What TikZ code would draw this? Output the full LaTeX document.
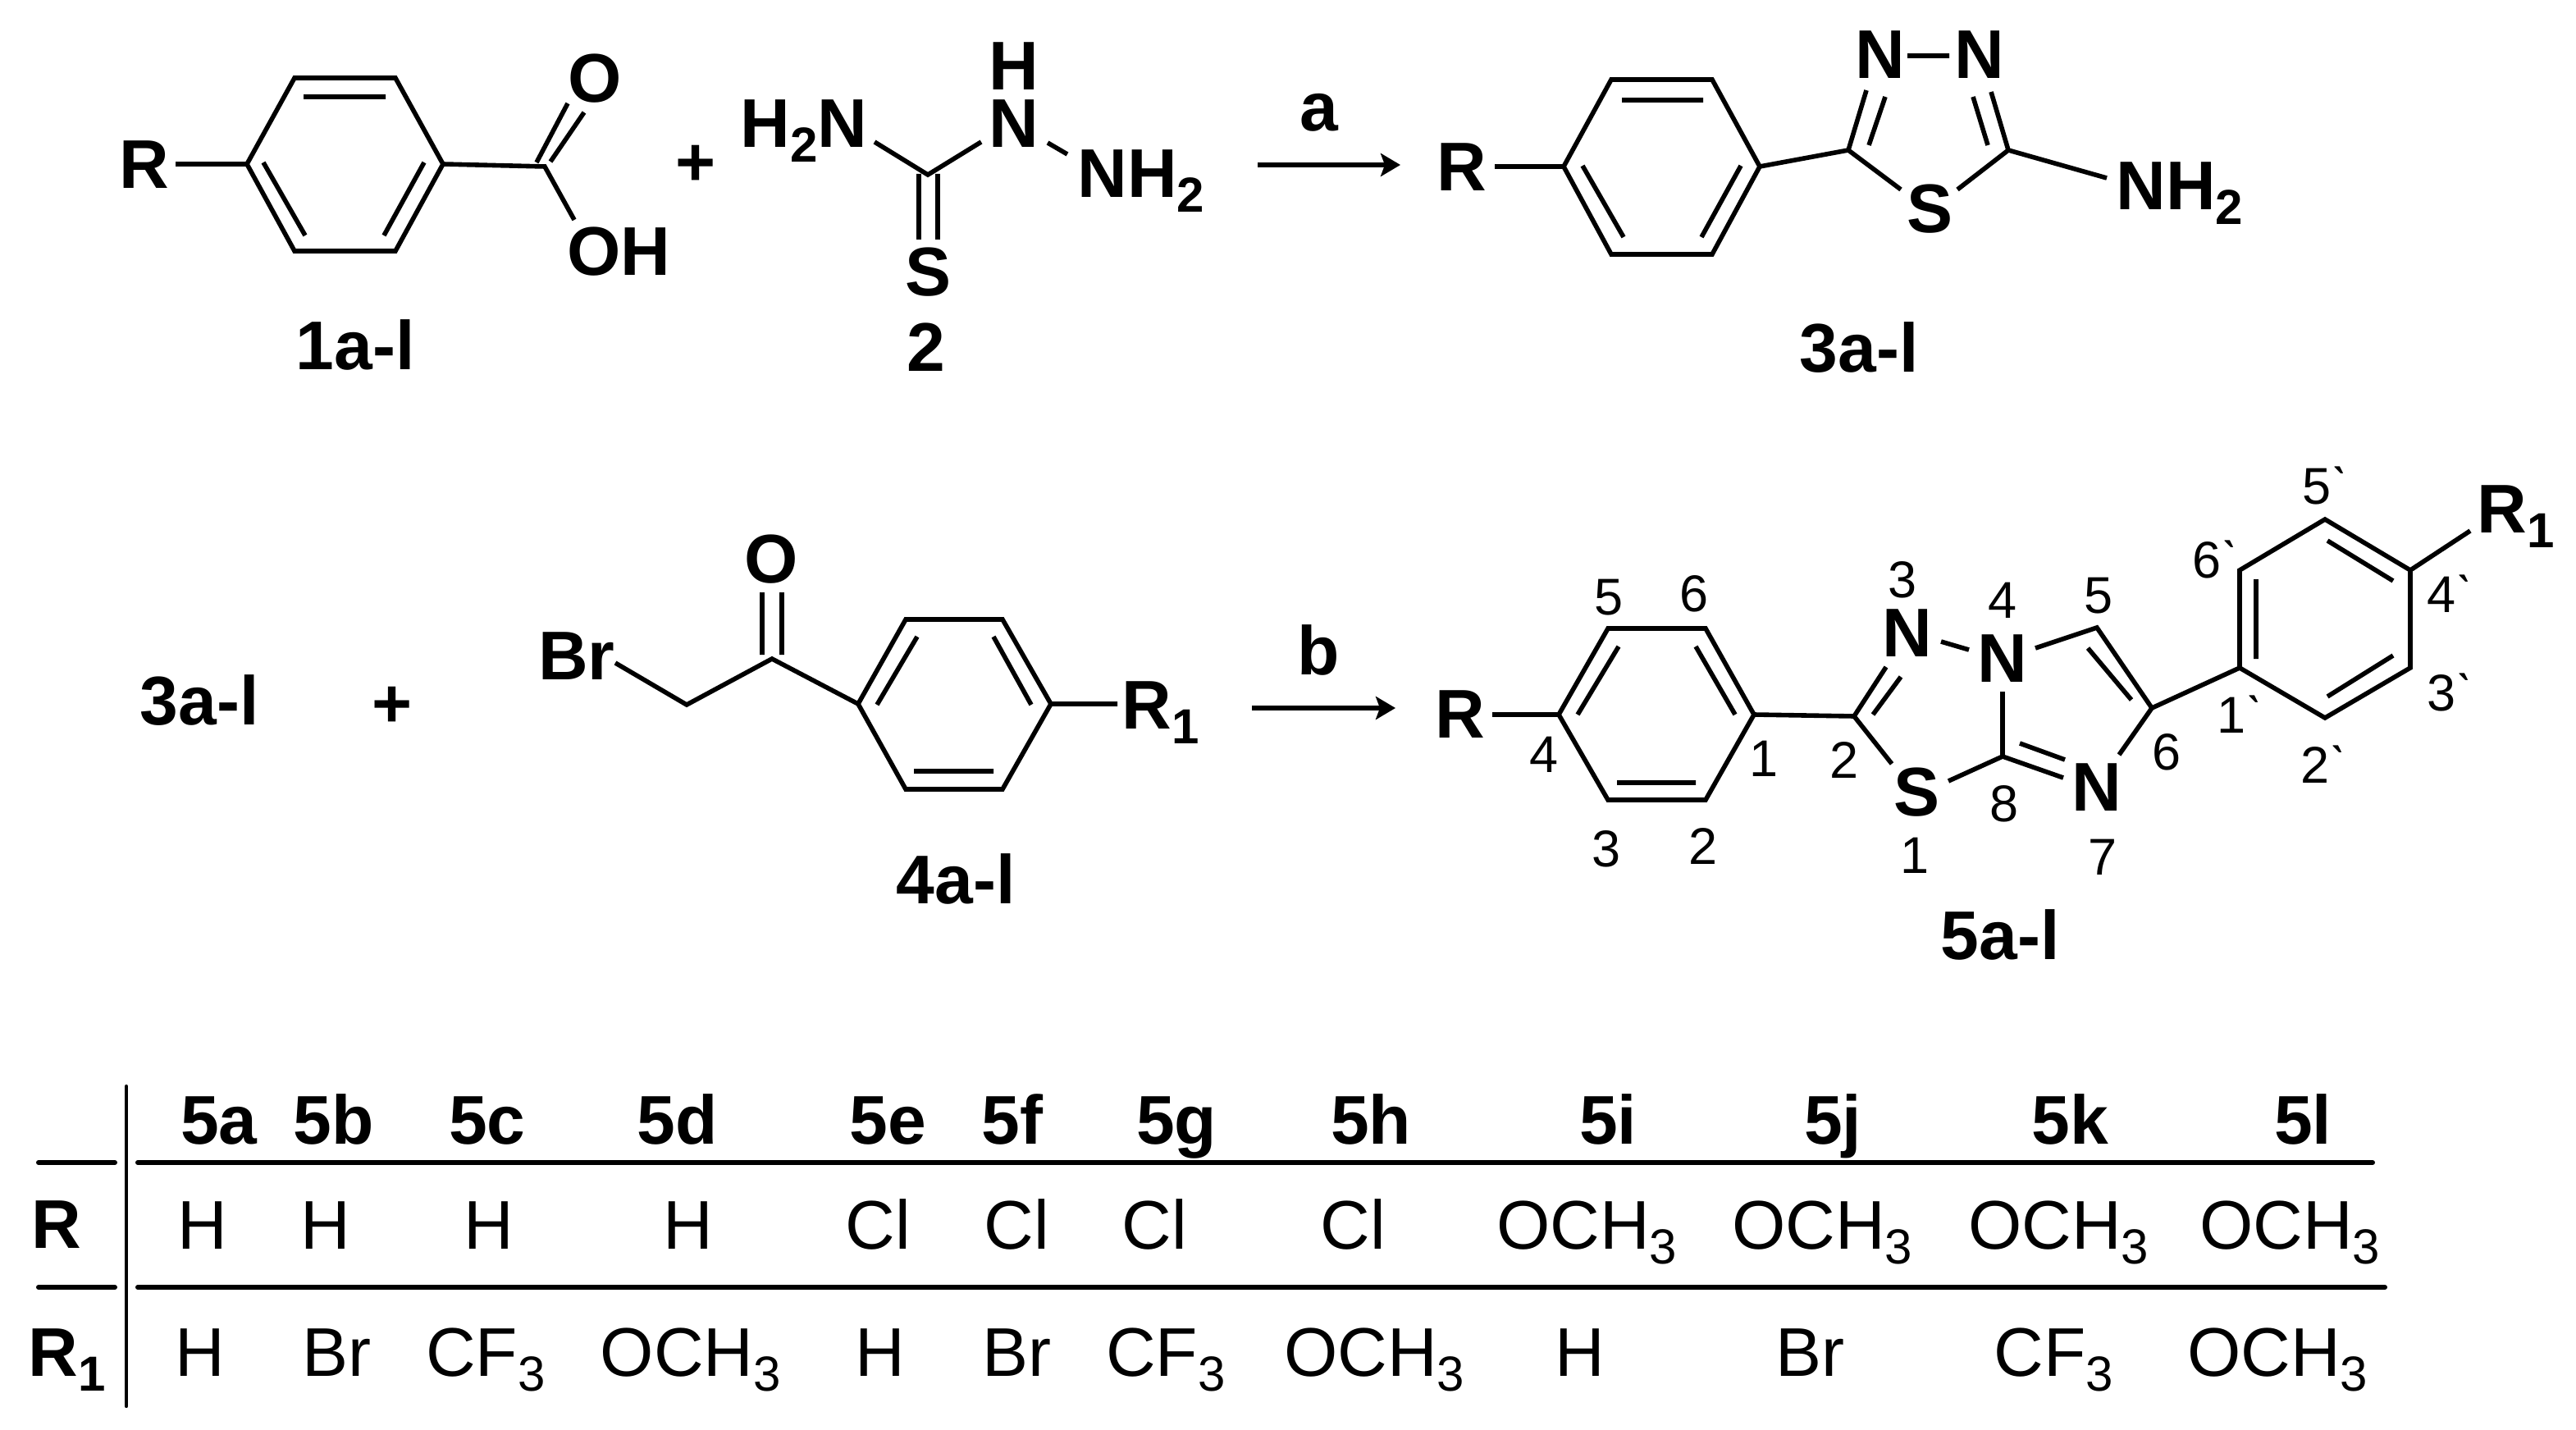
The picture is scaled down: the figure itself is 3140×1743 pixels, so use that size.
\documentclass[tikz,border=0pt]{standalone}
\usepackage{fontspec}
\setmainfont{Liberation Sans}
\usetikzlibrary{arrows.meta}
\newcommand{\bigtxt}{\fontsize{42}{50}\selectfont}
\newcommand{\smalltxt}{\fontsize{31.5}{38}\selectfont}
\newcommand{\sbb}[1]{\raisebox{-9pt}{\fontsize{30}{36}\selectfont #1}}
\newcommand{\prm}{\char"02CB }
\tikzset{
  bond/.style={line width=2.8pt,line cap=butt,line join=miter,black},
  rule/.style={line width=3pt,line cap=round,black},
  vrule/.style={line width=2.2pt,line cap=round,black},
  rxn/.style={line width=2.6pt,-{Stealth[length=12pt,width=14pt,inset=2.5pt]},black},
  atom/.style={inner sep=0pt,anchor=base,font=\bigtxt\bfseries},
  atoml/.style={inner sep=0pt,anchor=base west,font=\bigtxt\bfseries},
  cell/.style={inner sep=0pt,anchor=base,font=\bigtxt},
  num/.style={inner sep=0pt,anchor=base,font=\smalltxt},
  numl/.style={inner sep=0pt,anchor=base west,font=\smalltxt}
}
\begin{document}
\begin{tikzpicture}[x=0.5pt,y=-0.5pt]
\useasboundingbox (0,0) rectangle (3140,1743);
\fill[white] (0,0) rectangle (3140,1743);
% ---------- named points
\foreach \n/\x/\y in {
 % compound 1
 a1/301/200,a2/359/95,a3/482/95,a4/540/200,a5/482/306,a6/359/306,
 a7/370/118,a8/470/118,a9/321/198,a10/372/287,a11/517/198,a12/468/287,
 aR/214/200,aC/664/203,aO1/654/198,aO2/692/126,aO3/671/197,aO4/712/137,aOH/700/268,
 % compound 2
 bC/1131/213,bL/1066/173,bR/1196/173,bS1/1120/212,bS2/1120/292,bS3/1143/212,bS4/1143/292,
 bN1/1277/174,bN2/1301/188,
 % arrow a
 ar1/1533/201,ar2/1707/201,
 % compound 3
 c1/1906/203,c2/1964/97,c3/2087/97,c4/2145/203,c5/2087/310,c6/1964/310,
 c7/1977/122,c8/2076/122,c9/1929/202,c10/1979/289,c11/2122/202,c12/2074/289,
 cR/1822/203,cC2/2253/183,cC5/2448/183,cN1/2275/110,cI1/2278/177,cI2/2298/118,
 cN2/2427/112,cI3/2423/177,cI4/2405/118,cS1/2317/231,cS2/2386/231,cNN1/2325/68,cNN2/2376/68,cNH/2568/217,
 % compound 4
 d1/1046/858,d2/1104/755,d3/1222/755,d4/1281/858,d5/1222/962,d6/1104/962,
 d7/1118/776,d8/1069/859,d9/1211/776,d10/1257/859,d11/1114/940,d12/1211/940,
 dR/1362/858,dC/941/803,dCH/837/859,dBr/750/808,dO1/929/722,dO2/929/798,dO3/953/722,dO4/953/798,
 % arrow b
 br1/1526/863,br2/1701/863,
 % compound 5
 e1/1900/871,e2/1960/766,e3/2079/766,e4/2138/871,e5/2079/975,e6/1960/975,
 e7/1973/788,e8/1923/871,e9/2067/788,e10/2115/871,e11/1971/954,e12/2067/954,
 eR/1819/871,eC2/2260/873,eN3/2299/813,eI1/2283/871,eI2/2317/825,eS1/2306/931,
 eNN1/2366/782,eNN2/2400/792,eN4/2481/790,eC5/2556/765,eC6/2623/863,eI3/2545/790,eI4/2598/853,
 eN7/2583/920,eN4b/2441/843,eC8/2441/922,eN8/2515/948,eI5/2462/906,eI6/2517/926,eS2/2375/952,
 f1/2730/814,f2/2730/695,f3/2834/633,f4/2938/695,f5/2938/814,f6/2834/875,
 f7/2750/706,f8/2750/803,f9/2837/659,f10/2917/708,f11/2917/799,f12/2837/849,fR/3011/647,
 % table
 t1/154/1324,t2/154/1714,t3/47/1417,t4/140/1417,t5/168/1417,t6/2892/1417,
 t7/47/1569,t8/140/1569,t9/168/1569,t10/2907/1569}
 {\coordinate (\n) at (\x,\y);}
% ---------- compound 1
\node[atom] (R1a) at (176,230) {R};
\node[atom] (O1) at (725,125) {O};
\node[atom] (OH1) at (754,336) {OH};
\node[atom] (lab1) at (433,451) {1a-l};
\node[atom] (plus1) at (848,227) {+};
\draw[bond] (a1)--(a2)--(a3)--(a4)--(a5)--(a6)--cycle;
\draw[bond] (a7)--(a8) (a9)--(a10) (a11)--(a12);
\draw[bond] (aR)--(a1) (a4)--(aC)--(aOH) (aO1)--(aO2) (aO3)--(aO4);
% ---------- compound 2
\node[atoml] (H2N) at (902,180) {H\sbb{2}N};
\node[atom] (H2) at (1236,110) {H};
\node[atom] (N2) at (1236,180) {N};
\node[atoml] (NH2b) at (1313,241) {NH\sbb{2}};
\node[atom] (S2) at (1131,361) {S};
\node[atom] (lab2) at (1129,453) {2};
\draw[bond] (bL)--(bC)--(bR) (bS1)--(bS2) (bS3)--(bS4) (bN1)--(bN2);
% ---------- arrow a
\draw[rxn] (ar1)--(ar2);
\node[atom] (arA) at (1608,160) {a};
% ---------- compound 3
\node[atom] (R3) at (1782,233) {R};
\node[atom] (N3a) at (2292,96) {N};
\node[atom] (N3b) at (2413,96) {N};
\node[atom] (S3) at (2352,284) {S};
\node[atoml] (NH3) at (2579,256) {NH\sbb{2}};
\node[atom] (lab3) at (2266,454) {3a-l};
\draw[bond] (c1)--(c2)--(c3)--(c4)--(c5)--(c6)--cycle;
\draw[bond] (c7)--(c8) (c9)--(c10) (c11)--(c12);
\draw[bond] (cR)--(c1) (c4)--(cC2) (cN1)--(cC2)--(cS1) (cS2)--(cC5)--(cN2) (cI1)--(cI2) (cI3)--(cI4) (cNN1)--(cNN2) (cC5)--(cNH);
% ---------- second row, left
\node[atom] (lab3b) at (243,883) {3a-l};
\node[atom] (plus2) at (478,886) {+};
\node[atom] (Br4) at (703,828) {Br};
\node[atom] (O4) at (940,710) {O};
\node[atoml] (R14) at (1367,888) {R\sbb{1}};
\node[atom] (lab4) at (1165,1101) {4a-l};
\draw[bond] (d1)--(d2)--(d3)--(d4)--(d5)--(d6)--cycle;
\draw[bond] (d7)--(d8) (d9)--(d10) (d11)--(d12);
\draw[bond] (d4)--(dR) (d1)--(dC)--(dCH)--(dBr) (dO1)--(dO2) (dO3)--(dO4);
% ---------- arrow b
\draw[rxn] (br1)--(br2);
\node[atom] (arB) at (1607,822) {b};
% ---------- compound 5
\node[atom] (R5) at (1780,899) {R};
\node[atom] (N5a) at (2325,800) {N};
\node[atom] (N5b) at (2441,831) {N};
\node[atom] (N5c) at (2556,988) {N};
\node[atom] (S5) at (2336,994) {S};
\node[atoml] (R15) at (3019,649) {R\sbb{1}};
\node[atom] (lab5) at (2438,1169) {5a-l};
\draw[bond] (e1)--(e2)--(e3)--(e4)--(e5)--(e6)--cycle;
\draw[bond] (e7)--(e8) (e9)--(e10) (e11)--(e12);
\draw[bond] (eR)--(e1) (e4)--(eC2) (eN3)--(eC2)--(eS1) (eI1)--(eI2) (eNN1)--(eNN2)
  (eN4)--(eC5)--(eC6)--(eN7) (eI3)--(eI4) (eN4b)--(eC8)--(eN8) (eI5)--(eI6) (eS2)--(eC8) (eC6)--(f1);
\draw[bond] (f1)--(f2)--(f3)--(f4)--(f5)--(f6)--cycle;
\draw[bond] (f7)--(f8) (f9)--(f10) (f11)--(f12) (f4)--(fR);
% ---------- position numbers
\foreach \n/\x/\y/\t in {k1/1961/749/5,k2/2065/745/6,k3/2319/728/3,k4/2441/753/4,k5/2558/747/5,
  k6/1882/941/4,k7/2150/946/1,k8/2248/948/2,k9/1958/1056/3,k10/2076/1053/2,k11/2334/1064/1,
  k12/2443/1001/8,k13/2563/1066/7,k14/2641/938/6}
  {\node[num] (\n) at (\x,\y) {\t};}
\foreach \n/\x/\y/\t in {m1/2672/704/6,m2/2958/746/4,m3/2958/866/3,m4/2702/893/1,m5/2804/954/2,m6/2806/614/5}
  {\node[numl] (\n) at (\x,\y) {\t\prm};}
% ---------- table
\draw[vrule] (t1)--(t2);
\draw[rule] (t3)--(t4) (t5)--(t6) (t7)--(t8) (t9)--(t10);
\foreach \n/\x/\t in {ha/267/5a,hb/407/5b,hc/594/5c,hd/826/5d,he/1082/5e,hf/1234/5f,hg/1434/5g,
  hh/1671/5h,hi/1960/5i,hj/2234/5j,hk/2523/5k,hl/2807/5l}
  {\node[atom] (\n) at (\x,1394) {\t};}
\node[atom] (rowR) at (69,1521) {R};
\node[atoml] (rowRb) at (34,1677) {R\sbb{1}};
\foreach \n/\x/\t in {ra/247/H,rb/397/H,rc/596/H,rd/839/H,re/1070/Cl,rf/1239/Cl,rg/1407/Cl,rh/1649/Cl,
  ri/1934/OCH\sbb{3},rj/2221/OCH\sbb{3},rk/2509/OCH\sbb{3},rl/2791/OCH\sbb{3}}
  {\node[cell] (\n) at (\x,1522) {\t};}
\foreach \n/\x/\t in {sa/244/H,sb/410/Br,sc/592/CF\sbb{3},sd/842/OCH\sbb{3},se/1073/H,sf/1239/Br,sg/1421/CF\sbb{3},
  sh/1675/OCH\sbb{3},si/1926/H,sj/2206/Br,sk/2503/CF\sbb{3},sl/2776/OCH\sbb{3}}
  {\node[cell] (\n) at (\x,1677) {\t};}
\end{tikzpicture}
\end{document}
